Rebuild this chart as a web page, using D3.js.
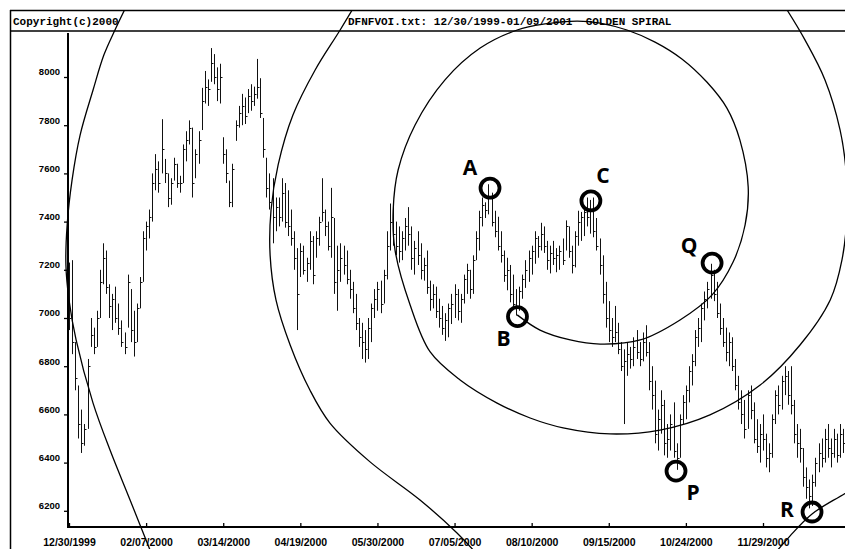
<!DOCTYPE html>
<html><head><meta charset="utf-8">
<script src="https://cdn.jsdelivr.net/npm/d3@7"></script>
<style>
html,body{margin:0;padding:0;background:#fff;}
svg{display:block;}
</style></head>
<body>
<svg id="chart" width="845" height="549"></svg>
<script>
// ---------- data ----------
const dateTicks = ["12/30/1999","02/07/2000","03/14/2000","04/19/2000","05/30/2000","07/05/2000","08/10/2000","09/15/2000","10/24/2000","11/29/2000"];
const tickIndex = [0,25,50,75,100,125,150,175,200,225];
const priceTicks = [6200,6400,6600,6800,7000,7200,7400,7600,7800,8000];

const highs = [
7230,7240,6900,6720,6620,6560,6830,7000,6960,7030,7200,7310,7280,7140,7100,7130,7060,6990,6940,7180,7120,7030,7060,7170,7360,
7400,7450,7600,7680,7650,7825,7660,7600,7580,7665,7640,7590,7720,7775,7820,7790,7700,7775,7955,8025,7990,8120,8095,8040,8055,
7750,7700,7570,7640,7820,7880,7930,7915,7950,7970,7960,8075,7995,7830,7665,7600,7580,7500,7500,7580,7560,7530,7450,7360,7290,
7310,7300,7250,7360,7340,7360,7420,7580,7450,7400,7540,7415,7300,7310,7300,7280,7200,7150,7100,7000,6980,6950,7000,7060,7120,
7150,7155,7200,7360,7475,7460,7400,7380,7360,7415,7460,7380,7320,7360,7310,7250,7280,7155,7140,7130,7080,7050,7020,7060,7100,
7140,7120,7100,7180,7225,7200,7260,7360,7445,7500,7480,7555,7520,7445,7420,7360,7280,7250,7220,7180,7120,7130,7180,7240,7280,
7300,7360,7340,7395,7380,7320,7300,7320,7290,7300,7330,7405,7380,7300,7360,7445,7440,7460,7500,7490,7500,7415,7330,7260,7150,
7070,7000,7050,6980,6900,6870,6900,6880,6920,6950,6900,6940,6970,6900,6800,6740,6620,6700,6660,6560,6600,6650,6480,6600,6680,
6720,6800,6850,6950,7000,7060,7110,7150,7225,7200,7150,7060,7000,6960,6940,6920,6830,6760,6700,6660,6700,6720,6650,6580,6560,
6600,6520,6480,6600,6700,6720,6760,6800,6780,6800,6660,6560,6540,6460,6380,6330,6350,6420,6480,6500,6540,6560,6500,6540,6520,6560,6540];

const lows = [
6950,6850,6700,6500,6440,6470,6540,6880,6850,6880,7000,7140,7100,7000,6950,6980,6930,6880,6850,6960,6900,6840,6900,7040,7150,
7280,7330,7400,7530,7520,7600,7560,7460,7470,7570,7540,7520,7560,7650,7720,7500,7580,7640,7780,7890,7880,7980,7970,7900,7890,
7640,7560,7460,7460,7735,7790,7800,7805,7850,7860,7880,7910,7830,7665,7500,7450,7310,7360,7380,7400,7375,7340,7300,7200,6950,
7170,7180,7150,7200,7140,7250,7300,7400,7340,7280,7250,7100,7030,7150,7180,7140,7080,7020,6950,6880,6830,6815,6830,6900,7000,
7030,7020,7060,7160,7280,7300,7260,7230,7240,7280,7300,7200,7180,7220,7160,7155,7100,7030,7040,7000,6960,6930,6905,6920,6975,
7000,6990,6980,7060,7100,7080,7100,7240,7280,7380,7415,7430,7380,7335,7280,7230,7150,7115,7065,7040,7010,7030,7080,7125,7150,
7180,7225,7250,7280,7270,7200,7185,7220,7190,7200,7220,7280,7250,7185,7210,7300,7320,7340,7380,7350,7335,7280,7180,7060,6960,
6900,6880,6900,6850,6780,6560,6760,6790,6800,6830,6800,6820,6840,6700,6620,6480,6450,6520,6430,6420,6450,6420,6370,6420,6560,
6580,6650,6720,6800,6880,6900,6990,7040,7080,7070,7000,6930,6880,6820,6800,6780,6700,6620,6560,6500,6540,6580,6480,6440,6400,
6450,6380,6360,6420,6560,6600,6620,6680,6640,6600,6480,6420,6400,6300,6250,6210,6220,6300,6360,6380,6400,6420,6380,6420,6400,6420,6440];

const closes = [
7000,6900,6750,6560,6480,6540,6800,6930,6880,7000,7150,7250,7130,7050,7080,7000,6960,6900,6880,7150,6950,6900,7040,7150,7330,
7380,7420,7560,7620,7560,7700,7600,7500,7560,7640,7560,7560,7700,7740,7790,7560,7680,7740,7900,7960,7950,8060,8000,7950,8000,
7680,7600,7480,7620,7800,7850,7880,7840,7920,7900,7930,7960,7850,7700,7540,7480,7420,7460,7420,7520,7400,7380,7330,7250,7100,
7280,7200,7230,7320,7180,7330,7400,7440,7380,7300,7420,7150,7200,7250,7220,7160,7120,7040,6980,6920,6900,6870,6960,7040,7080,
7120,7060,7180,7300,7400,7350,7300,7280,7330,7380,7350,7250,7290,7260,7200,7220,7130,7080,7100,7030,7000,6960,6990,7040,7060,
7100,7030,7080,7160,7200,7120,7240,7330,7420,7470,7450,7500,7400,7360,7300,7260,7180,7200,7100,7060,7050,7110,7160,7200,7250,
7280,7330,7300,7350,7300,7240,7270,7250,7260,7280,7240,7380,7280,7220,7340,7400,7420,7440,7420,7450,7360,7300,7220,7100,7000,
6950,6920,6940,6870,6800,6820,6850,6830,6880,6860,6830,6900,6860,6740,6680,6520,6580,6640,6480,6500,6560,6450,6420,6580,6650,
6700,6780,6820,6920,6960,7040,7080,7120,7180,7100,7020,6960,6900,6860,6900,6800,6720,6650,6600,6540,6680,6620,6500,6470,6520,
6500,6420,6440,6580,6680,6640,6740,6760,6680,6640,6520,6480,6460,6340,6300,6260,6320,6400,6440,6420,6500,6460,6440,6500,6430,6520,6480];

// Fibonacci turning points marked on the chart
const markerNames = ["A","B","C","P","Q","R"];
const markerIndex = [136.5,145.4,169.2,196.8,208.5,240.9];
const markerPrice = [7539,7006,7486,6365,7228,6195];

// golden spiral, as [bar index, price] points, three visible turns
const spiralInner = [[145.3,7013],[152.7,6950],[162.5,6909],[172.2,6892],[185.2,6909],[198.1,6992],[208.5,7096],[215.3,7232],[219.2,7386],[220.2,7544],[217.5,7739],[213.3,7871],[206.8,7979],[198.7,8075],[190.0,8145],[180.9,8195],[172.2,8224],[164.7,8232],[154.3,8220],[145.3,8195],[133.3,8120],[121.9,7988],[112.2,7801],[106.7,7614],[105.1,7448],[105.7,7282],[110.6,7054],[117.1,6859],[126.8,6743],[138.8,6647],[149.5,6585],[160.2,6544],[175.4,6519],[191.6,6535],[207.8,6598],[224.1,6722],[237.0,6888],[246.8,7075],[250.6,7241],[252.3,7448],[251.9,7614],[250.0,7780],[245.1,7988],[238.6,8154],[232.8,8278],[229.6,8340]];
const spiralMiddle = [[93.7,8319],[87.9,8195],[79.8,8029],[72.6,7842],[67.8,7635],[65.5,7448],[65.2,7261],[67.1,7075],[71.7,6888],[78.1,6701],[84.6,6564],[97.6,6403],[113.8,6245],[125.8,6108],[131.6,6029],[139.7,5892],[159.2,5664],[188.4,5560],[214.3,5747],[224.7,5955],[233.8,6096],[240.9,6187],[252.3,6278],[262.9,6369]];
const spiralOuter = [[18.8,8299],[14.9,8195],[11.3,8091],[7.8,7946],[3.6,7759],[1.0,7573],[-0.6,7386],[-1.0,7220],[0,7075],[2.3,6909],[7.8,6647],[13.3,6452],[19.8,6245],[26.9,6017]];

const headerLeft = "Copyright(c)2000";
const headerTitle = "DFNFVOI.txt: 12/30/1999-01/09/2001  GOLDEN SPIRAL";

// ---------- drawing ----------
const W = 845, H = 549;
const svg = d3.select("#chart");
const x = d3.scaleLinear().domain([0, 225]).range([69, 763]);
const y = d3.scaleLinear().domain([6200, 8000]).range([510.8, 77]);

// frame & header
const frame = svg.append("g").attr("stroke", "#000").attr("fill", "none");
frame.append("line").attr("x1", 10).attr("x2", W).attr("y1", 10.5).attr("y2", 10.5).attr("stroke-width", 1.3);
frame.append("line").attr("x1", 10.5).attr("x2", 10.5).attr("y1", 10).attr("y2", H).attr("stroke-width", 1.5);
frame.append("line").attr("x1", 10).attr("x2", W).attr("y1", 31).attr("y2", 31).attr("stroke-width", 1.6);

const hdr = svg.append("g").attr("font-family", "'Liberation Mono', 'DejaVu Sans Mono', monospace")
  .attr("font-weight", 700).attr("font-size", 11).attr("fill", "#000");
hdr.append("text").attr("x", 13).attr("y", 25).text(headerLeft);
hdr.append("text").attr("x", 348).attr("y", 25).attr("xml:space", "preserve")
  .style("white-space", "pre").text(headerTitle);

// axes
const yAxis = svg.append("g").attr("transform", "translate(68,0)")
  .call(d3.axisLeft(y).tickValues(priceTicks).tickSize(4).tickPadding(4).tickFormat(d3.format("d")));
yAxis.select(".domain").remove();
yAxis.selectAll("line").attr("stroke", "#000").attr("stroke-width", 1.3);
yAxis.selectAll("text").attr("dy", "-0.22em").attr("fill", "#000")
  .attr("font-family", "'Liberation Sans', Arial, sans-serif").attr("font-weight", 700).attr("font-size", 9.5);

const xAxis = svg.append("g").attr("transform", "translate(0,527)")
  .call(d3.axisBottom(x).tickValues(tickIndex).tickSize(-4).tickPadding(12).tickFormat((d, k) => dateTicks[k]));
xAxis.select(".domain").remove();
xAxis.selectAll("line").attr("stroke", "#000").attr("stroke-width", 1.3);
xAxis.selectAll("text").attr("fill", "#000")
  .attr("font-family", "'Liberation Sans', Arial, sans-serif").attr("font-weight", 700).attr("font-size", 10.5);

svg.append("line").attr("x1", 68).attr("x2", 68).attr("y1", 33).attr("y2", 528).attr("stroke", "#000").attr("stroke-width", 2);
svg.append("line").attr("x1", 67).attr("x2", W).attr("y1", 527).attr("y2", 527).attr("stroke", "#000").attr("stroke-width", 2);

// HLC bars
const n = Math.min(highs.length, lows.length, closes.length);
const bars = svg.append("g").attr("stroke", "#111").attr("stroke-width", 1);
for (let i = 0; i < n; i++) {
  const xi = Math.round(x(i)) + 0.5;
  bars.append("line").attr("x1", xi).attr("x2", xi).attr("y1", y(highs[i])).attr("y2", y(lows[i]));
  bars.append("line").attr("x1", xi).attr("x2", xi + 2).attr("y1", Math.round(y(closes[i])) + 0.5).attr("y2", Math.round(y(closes[i])) + 0.5);
}

// spiral
svg.append("clipPath").attr("id", "frameClip").append("rect")
  .attr("x", 10).attr("y", 10).attr("width", W - 10).attr("height", H - 10);
const spiralLine = d3.line().x(d => x(d[0])).y(d => y(d[1])).curve(d3.curveCatmullRom.alpha(0.5));
const sp = svg.append("g").attr("clip-path", "url(#frameClip)")
  .attr("fill", "none").attr("stroke", "#000").attr("stroke-width", 1.3);
[spiralInner, spiralMiddle, spiralOuter].forEach(pts => sp.append("path").attr("d", spiralLine(pts)));

// markers
const labelOffset = {A: [-20, -21], B: [-14, 22], C: [12, -25], P: [17, 21], Q: [-23, -18], R: [-25, -3]};
const mk = svg.append("g");
markerNames.forEach((name, k) => {
  const cx = x(markerIndex[k]), cy = y(markerPrice[k]);
  mk.append("circle").attr("cx", cx).attr("cy", cy).attr("r", 9.5)
    .attr("fill", "none").attr("stroke", "#000").attr("stroke-width", 3.8);
  const o = labelOffset[name];
  mk.append("text").attr("x", cx + o[0]).attr("y", cy + o[1]).attr("dy", "0.36em")
    .attr("text-anchor", "middle").attr("font-family", "'Open Sans', 'Liberation Sans', sans-serif")
    .attr("font-weight", 700).attr("font-size", 21).attr("fill", "#000").text(name);
});
</script>
</body></html>
